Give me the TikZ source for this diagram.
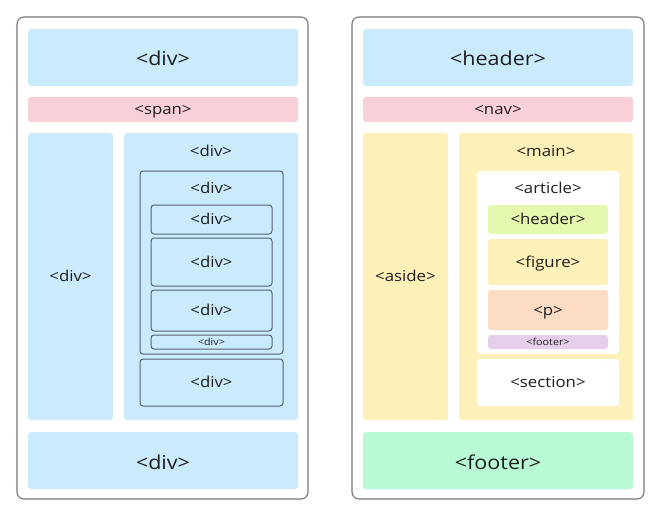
\documentclass[tikz,border=0pt]{standalone}
\usepackage{fontspec}
\setmainfont{Open Sans}[FakeStretch=1.12]
\definecolor{cblue}{HTML}{C9EBFC}
\definecolor{cpink}{HTML}{F9D0D8}
\definecolor{cyellow}{HTML}{FDF0B8}
\definecolor{cgreen}{HTML}{E4F8B0}
\definecolor{cpeach}{HTML}{FCDCC2}
\definecolor{cpurple}{HTML}{E6CFEA}
\definecolor{cmint}{HTML}{B8FAD4}
\definecolor{cborder}{HTML}{777777}
\definecolor{cinner}{HTML}{56626C}
\definecolor{ctext}{HTML}{1E1E1E}
\tikzset{
  panel/.style={draw=cborder, line width=1.1pt, fill=white, rounded corners=7pt, inner sep=0pt},
  blk/.style={rounded corners=3pt, inner sep=0pt, text=ctext},
  ibox/.style={blk, draw=cinner, line width=1pt},
  big/.style={font=\fontsize{19.2}{19.2}\selectfont, text height=17pt, text depth=0pt},
  mid/.style={font=\fontsize{15}{15}\selectfont, text height=10pt, text depth=0pt},
  sml/.style={font=\fontsize{9.6}{9.6}\selectfont, text height=6pt, text depth=0pt},
  lbl/.style={inner sep=0pt, text=ctext},
}
\begin{document}
\begin{tikzpicture}[x=1pt,y=-1pt]
\useasboundingbox (0,0) rectangle (661,516);
% ---------- left panel ----------
\node[panel, minimum width=291pt, minimum height=482pt] (Lout) at (162.5,258) {};
\node[blk, fill=cblue, big, minimum width=270pt, minimum height=57pt] (Ltop) at (163,57.5) {<div>};
\node[blk, fill=cpink, mid, minimum width=270pt, minimum height=25pt] (Lspan) at (163,109.5) {<span>};
\node[blk, fill=cblue, mid, minimum width=85pt, minimum height=287pt] (Lleft) at (70.5,276.5) {<div>};
\node[blk, fill=cblue, minimum width=174pt, minimum height=287pt] (Lright) at (211,276.5) {};
\node[lbl, mid] (LrightL) at (211,152) {<div>};
\node[ibox, fill=cblue, minimum width=143pt, minimum height=183pt] (Lbox) at (211.5,262.5) {};
\node[lbl, mid] (LboxL) at (211.5,188) {<div>};
\node[ibox, fill=cblue, mid, minimum width=121pt, minimum height=29pt] (Lb1) at (211.5,219.5) {<div>};
\node[ibox, fill=cblue, mid, minimum width=121pt, minimum height=48pt] (Lb2) at (211.5,262) {<div>};
\node[ibox, fill=cblue, mid, minimum width=121pt, minimum height=41pt] (Lb3) at (211.5,310.5) {<div>};
\node[ibox, fill=cblue, sml, minimum width=121pt, minimum height=14pt] (Lb4) at (211.5,342) {<div>};
\node[ibox, fill=cblue, mid, minimum width=143pt, minimum height=47pt] (Lb5) at (211.5,382.5) {<div>};
\node[blk, fill=cblue, big, minimum width=270pt, minimum height=57pt] (Lfoot) at (163,460.5) {<div>};
% ---------- right panel ----------
\node[panel, minimum width=292pt, minimum height=482pt] (Rout) at (498,258) {};
\node[blk, fill=cblue, big, minimum width=270pt, minimum height=57pt] (Rhead) at (498,57.5) {<header>};
\node[blk, fill=cpink, mid, minimum width=270pt, minimum height=25pt] (Rnav) at (498,109.5) {<nav>};
\node[blk, fill=cyellow, mid, minimum width=85pt, minimum height=287pt] (Raside) at (405.5,276.5) {<aside>};
\node[blk, fill=cyellow, minimum width=174pt, minimum height=287pt] (Rmain) at (546,276.5) {};
\node[lbl, mid] (RmainL) at (546,152) {<main>};
\node[blk, fill=white, minimum width=142pt, minimum height=183pt] (Rart) at (548,262.5) {};
\node[lbl, mid] (RartL) at (548,188) {<article>};
\node[blk, fill=cgreen, mid, minimum width=120pt, minimum height=29pt] (Rhdr) at (548,219.5) {<header>};
\node[blk, fill=cyellow, mid, minimum width=120pt, minimum height=46pt] (Rfig) at (548,262) {<figure>};
\node[blk, fill=cpeach, mid, minimum width=120pt, minimum height=40pt] (Rp) at (548,310) {<p>};
\node[blk, fill=cpurple, sml, minimum width=120pt, minimum height=14pt] (Rftr) at (548,342) {<footer>};
\node[blk, fill=white, mid, minimum width=142pt, minimum height=47pt] (Rsec) at (548,382.5) {<section>};
\node[blk, fill=cmint, big, minimum width=270pt, minimum height=57pt] (Rfoot) at (498,460.5) {<footer>};
\end{tikzpicture}
\end{document}
